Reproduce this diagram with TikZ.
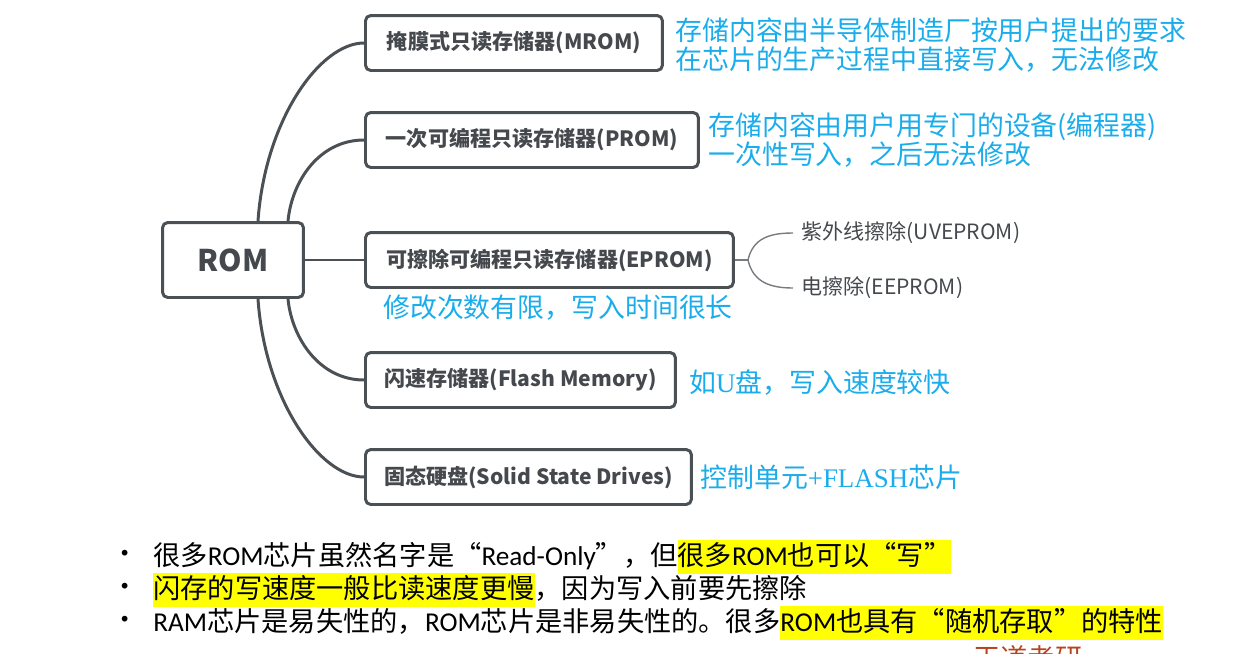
\documentclass[tikz,border=0pt]{standalone}
\usepackage{fontspec}
\setmainfont{Noto Sans CJK SC}
\newfontfamily\latinfont{Carlito}
\newfontfamily\seriffont{Liberation Serif}
\usetikzlibrary{positioning}

\definecolor{boxgray}{HTML}{4B5055}
\definecolor{textgray}{HTML}{45494E}
\definecolor{noteblue}{HTML}{1AACEB}
\definecolor{hlyellow}{HTML}{FFFF00}
\definecolor{wdred}{HTML}{B8441E}

\newcommand{\lt}[1]{{\latinfont #1}}
\newcommand{\hlt}[1]{{\setlength{\fboxsep}{0pt}\colorbox{hlyellow}{\rule[-0.3em]{0pt}{1.26em}#1}}}

\begin{document}
\begin{tikzpicture}[x=0.02cm, y=-0.02cm,
    topic/.style={draw=boxgray, line width=1.7pt, rounded corners=3pt, fill=white,
      text=textgray, font=\bfseries\fontsize{12}{14}\selectfont,
      minimum height=1.1cm, inner sep=0pt, anchor=west},
    branch/.style={draw=boxgray, line width=1.7pt},
    fork/.style={draw=boxgray!75, line width=0.8pt},
    leaf/.style={text=textgray, font=\fontsize{12}{14}\selectfont, anchor=west, inner xsep=0.16cm, inner ysep=0pt},
    note/.style={text=noteblue, font=\fontsize{15.3}{17}\selectfont, anchor=west, align=left, inner sep=0pt},
    item/.style={anchor=west, inner sep=0pt, font=\fontsize{15.5}{17}\selectfont}]
  \useasboundingbox (0,0) rectangle (1255,653);

  % root and first level
  \node[topic, anchor=center, minimum width=2.82cm, minimum height=1.5cm,
        font=\bfseries\fontsize{17}{20}\selectfont] (rom) at (233,260) {ROM};
  \node[topic, minimum width=5.94cm] (mrom)  at (364,43)  {掩膜式只读存储器(MROM)};
  \node[topic, minimum width=6.66cm] (prom)  at (364,140) {一次可编程只读存储器(PROM)};
  \node[topic, minimum width=7.36cm] (eprom) at (364,260) {可擦除可编程只读存储器(EPROM)};
  \node[topic, minimum width=6.2cm]  (flash) at (364,380) {闪速存储器(Flash Memory)};
  \node[topic, minimum width=6.52cm] (ssd)   at (364,477) {固态硬盘(Solid State Drives)};

  \draw[branch] ([xshift=0.5cm]rom.north) .. controls (265,120) and (320,43) .. (mrom.west);
  \draw[branch] ([xshift=1.1cm]rom.north) .. controls (292,180) and (320,140) .. (prom.west);
  \draw[branch] (rom.east) -- (eprom.west);
  \draw[branch] ([xshift=1.1cm]rom.south) .. controls (292,339) and (320,380) .. (flash.west);
  \draw[branch] ([xshift=0.5cm]rom.south) .. controls (265,400) and (320,477) .. (ssd.west);

  % EPROM sub-branches
  \node[leaf] (uv) at (793,233) {紫外线擦除(UVEPROM)};
  \node[leaf] (ee) at (793,288) {电擦除(EEPROM)};
  \coordinate (fk) at (748,260);
  \draw[fork] (eprom.east) -- (fk);
  \draw[fork] (fk) .. controls (753,238) and (770,233) .. (uv.west);
  \draw[fork] (fk) .. controls (753,282) and (770,288) .. (ee.west);

  % notes
  \node[note] (n1) at (675,45)  {存储内容由半导体制造厂按用户提出的要求\\在芯片的生产过程中直接写入，无法修改};
  \node[note] (n2) at (708,140) {存储内容由用户用专门的设备(编程器)\\一次性写入，之后无法修改};
  \node[note] (n3) at (383,308) {修改次数有限，写入时间很长};
  \node[note] (n4) at (689,383) {如{\seriffont U}盘，写入速度较快};
  \node[note] (n5) at (700,477) {控制单元{\seriffont +FLASH}芯片};

  % bullet list
  \foreach \y/\nm in {557/b1, 590/b2, 623/b3}
    \node[item, anchor=center] (\nm) at (125,\y) {•};
  \node[item] (l1) at (153,557) {很多\lt{ROM}芯片虽然名字是“\lt{Read-Only}”，但\hlt{很多\lt{ROM}也可以“写”}};
  \node[item] (l2) at (153,590) {\hlt{闪存的写速度一般比读速度更慢}，因为写入前要先擦除};
  \node[item] (l3) at (153,623) {\lt{RAM}芯片是易失性的，\lt{ROM}芯片是非易失性的。很多\hlt{\lt{ROM}也具有“随机存取”的特性}};

  \begin{scope}
    \clip (0,0) rectangle (1255,653);
    \node[item, anchor=north west, text=wdred] (wd) at (973,645) {王道考研};
  \end{scope}
\end{tikzpicture}
\end{document}
